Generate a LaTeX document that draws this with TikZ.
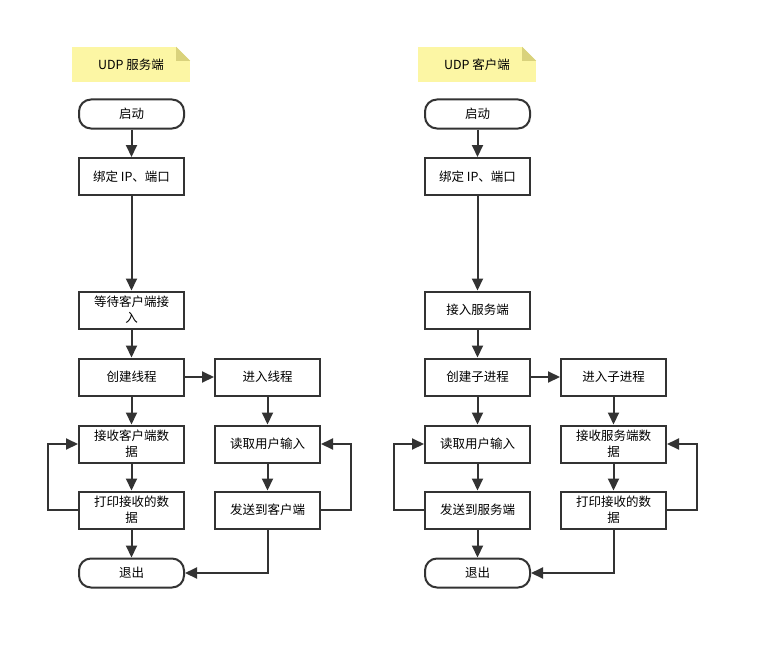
\documentclass[tikz,border=0pt]{standalone}
\usepackage{fontspec}
\setmainfont{Noto Sans CJK SC}
\usetikzlibrary{arrows.meta}
\definecolor{line}{HTML}{333333}
\definecolor{notefill}{HTML}{FCF6A4}
\definecolor{notefold}{HTML}{D9D27C}

\begin{document}
\begin{tikzpicture}[x=1pt,y=-1pt,font=\fontsize{12.5}{16}\selectfont,
    box/.style={draw=line,line width=2pt,minimum width=105pt,minimum height=37pt,align=center,inner sep=1pt},
    term/.style={box,rounded corners=12pt,minimum height=29pt},
    note/.style={fill=notefill,minimum width=118pt,minimum height=35pt,inner sep=0pt},
    flow/.style={draw=line,line width=2pt,-{Triangle[length=12pt,width=11pt]}}]
    \useasboundingbox (0,0) rectangle (759,650);
    % server side
    \node[note] (srvnote) at (131,64.5) {UDP 服务端};
    \fill[white] (srvnote.north east) ++(-14,0) -- (srvnote.north east) -- ++(0,14) -- cycle;
    \fill[notefold] (srvnote.north east) ++(-14,0) -- ++(14,14) -- ++(-14,0) -- cycle;
    \node[term] (s0) at (131.5,114) {启动};
    \node[box] (s1) at (131.5,176.5) {绑定 IP、端口};
    \node[box] (s2) at (131.5,310) {等待客户端接\\入};
    \node[box] (s3) at (131.5,377) {创建线程};
    \node[box] (s4) at (267.5,377) {进入线程};
    \node[box] (s5) at (131.5,444) {接收客户端数\\据};
    \node[box] (s6) at (267.5,444) {读取用户输入};
    \node[box] (s7) at (131.5,510) {打印接收的数\\据};
    \node[box] (s8) at (267.5,510) {发送到客户端};
    \node[term] (s9) at (131.5,573) {退出};
    \draw[flow] (s0) -- (s1);
    \draw[flow] (s1) -- (s2);
    \draw[flow] (s2) -- (s3);
    \draw[flow] (s3) -- (s4);
    \draw[flow] (s3) -- (s5);
    \draw[flow] (s4) -- (s6);
    \draw[flow] (s5) -- (s7);
    \draw[flow] (s6) -- (s8);
    \draw[flow] (s7) -- (s9);
    \draw[flow] (s7.west) -- ++(-30,0) |- (s5.west);
    \draw[flow] (s8.east) -- ++(30,0) |- (s6.east);
    \draw[flow] (s8.south) |- (s9.east);
    % client side
    \node[note] (clinote) at (477,64.5) {UDP 客户端};
    \fill[white] (clinote.north east) ++(-14,0) -- (clinote.north east) -- ++(0,14) -- cycle;
    \fill[notefold] (clinote.north east) ++(-14,0) -- ++(14,14) -- ++(-14,0) -- cycle;
    \node[term] (c0) at (477.5,114) {启动};
    \node[box] (c1) at (477.5,176.5) {绑定 IP、端口};
    \node[box] (c2) at (477.5,310) {接入服务端};
    \node[box] (c3) at (477.5,377) {创建子进程};
    \node[box] (c4) at (613.5,377) {进入子进程};
    \node[box] (c5) at (477.5,444) {读取用户输入};
    \node[box] (c6) at (613.5,444) {接收服务端数\\据};
    \node[box] (c7) at (477.5,510) {发送到服务端};
    \node[box] (c8) at (613.5,510) {打印接收的数\\据};
    \node[term] (c9) at (477.5,573) {退出};
    \draw[flow] (c0) -- (c1);
    \draw[flow] (c1) -- (c2);
    \draw[flow] (c2) -- (c3);
    \draw[flow] (c3) -- (c4);
    \draw[flow] (c3) -- (c5);
    \draw[flow] (c4) -- (c6);
    \draw[flow] (c5) -- (c7);
    \draw[flow] (c6) -- (c8);
    \draw[flow] (c7) -- (c9);
    \draw[flow] (c7.west) -- ++(-30,0) |- (c5.west);
    \draw[flow] (c8.east) -- ++(30,0) |- (c6.east);
    \draw[flow] (c8.south) |- (c9.east);
\end{tikzpicture}
\end{document}
